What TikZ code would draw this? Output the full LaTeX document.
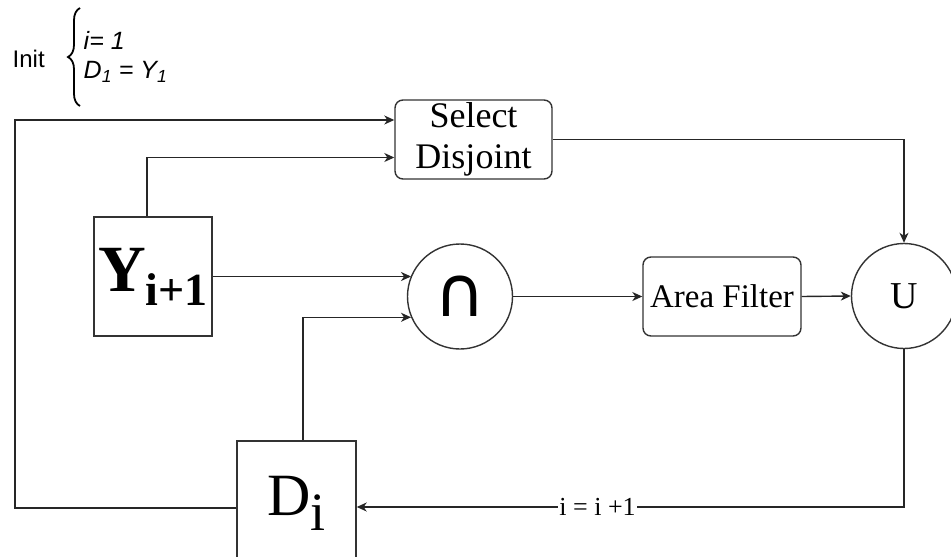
\documentclass[tikz,border=0pt]{standalone}
\usepackage{fontspec}
\setmainfont{Liberation Serif}
\newfontfamily\sansf{Liberation Sans}
\newfontfamily\djv{DejaVu Sans}
\usetikzlibrary{arrows.meta,decorations.pathreplacing,calc}
\begin{document}
\begin{tikzpicture}[x=1pt,y=-1pt,
  line width=1.4pt,
  conn/.style={draw=black!85, -{Stealth[length=10pt,width=9pt,inset=3pt]}},
  rbox/.style={draw=black!80, rounded corners=8pt, inner sep=0pt, align=center},
  sbox/.style={draw=black!80, inner sep=0pt},
  circ/.style={draw=black!80, circle, inner sep=0pt, minimum size=105pt},
]
\useasboundingbox (0,0) rectangle (951,557);
\clip (0,0) rectangle (951,557);

% Init
\node[anchor=west, inner sep=0pt, font=\sansf\fontsize{24}{26}\selectfont] (init) at (12,59) {Init};
\draw[line width=1.8pt, decorate, decoration={brace, amplitude=12pt, aspect=0.5}]
  (80,106) coordinate (bb) -- (80,8) coordinate (bt);
\node[anchor=west, inner sep=0pt, font=\sansf\itshape\fontsize{25}{27}\selectfont] (init1) at (83,40) {i= 1};
\node[anchor=west, inner sep=0pt, font=\sansf\itshape\fontsize{25}{27}\selectfont] (init2) at (83,72) {D\textsubscript{1} = Y\textsubscript{1}};

% nodes
\node[rbox, minimum width=157pt, minimum height=79pt, font=\fontsize{36}{41}\selectfont] (sel) at (473.5,139.5) {Select\\Disjoint};
\node[sbox, minimum width=118pt, minimum height=119pt] (Y) at (153,276.5)
  {\bfseries\fontsize{66}{68}\selectfont Y\raisebox{-14pt}{\fontsize{46}{48}\selectfont i+1}};
\node[circ] (cap) at (460,296.5) {\djv\fontsize{70}{72}\selectfont ∩};
\node[rbox, minimum width=158pt, minimum height=79pt, font=\fontsize{33}{36}\selectfont] (area) at (722,296.5) {Area Filter};
\node[circ, font=\fontsize{38}{40}\selectfont] (U) at (904,296) {U};
\node[sbox, minimum width=119pt, minimum height=124pt] (D) at (296.5,503)
  {\fontsize{60}{62}\selectfont D\raisebox{-15pt}{\fontsize{54}{56}\selectfont i}};

% connectors
\draw[conn] ([yshift=-5pt]D.west) -| (15,120) coordinate (lc) -- (sel.west |- lc);
\draw[conn] ([xshift=-6pt]Y.north) |- ([yshift=-18pt]sel.west);
\draw[conn] (Y.east) -- (Y.east -| cap.157);
\draw[conn] ([xshift=6.5pt]D.north) |- (cap.203);
\draw[conn] (cap.east) -- (area.west);
\draw[conn] (area.east) -- (U.west);
\draw[conn] (sel.east) -| (U.north);
\draw[conn] (U.south) |- ([yshift=-4pt]D.east)
  node[pos=0.78, fill=white, inner sep=1pt, font=\fontsize{26}{28}\selectfont] (inc) {i = i +1};
\end{tikzpicture}
\end{document}
